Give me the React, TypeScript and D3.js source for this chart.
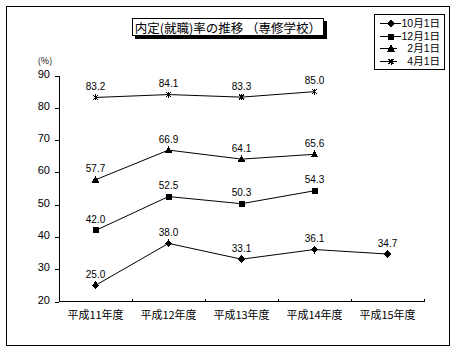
import React from "react";
import * as d3 from "d3";

const years = ["平成11年度", "平成12年度", "平成13年度", "平成14年度", "平成15年度"];
const seriesNames = ["10月1日", "12月1日", "2月1日", "4月1日"];
const oct1 = [25.0, 38.0, 33.1, 36.1, 34.7];
const dec1 = [42.0, 52.5, 50.3, 54.3, null];
const feb1 = [57.7, 66.9, 64.1, 65.6, null];
const apr1 = [83.2, 84.1, 83.3, 85.0, null];
const yTicks = [20, 30, 40, 50, 60, 70, 80, 90];
const titleText = "内定(就職)率の推移 （専修学校）";

const seriesValues = [oct1, dec1, feb1, apr1];
const markerKinds = ["diamond", "square", "triangle", "star"];

const jp = "'Noto Sans CJK JP', sans-serif";
const num = "'Liberation Sans', Arial, sans-serif";
const legendFont = "'Liberation Sans', 'Noto Sans CJK JP', sans-serif";

function Marker({ kind, x, y }: { kind: string; x: number; y: number }) {
  if (kind === "diamond") {
    return <path d={`M${x},${y - 4}L${x + 3.5},${y}L${x},${y + 4}L${x - 3.5},${y}Z`} fill="#000" />;
  }
  if (kind === "square") {
    return <rect x={x - 3} y={y - 3} width={6} height={6} fill="#000" />;
  }
  if (kind === "triangle") {
    return <path d={`M${x},${y - 4}L${x + 4},${y + 3}L${x - 4},${y + 3}Z`} fill="#000" />;
  }
  return (
    <path
      d={`M${x - 2.5},${y - 2.5}L${x + 2.5},${y + 2.5}M${x - 2.5},${y + 2.5}L${x + 2.5},${y - 2.5}M${x},${y - 3}L${x},${y + 3}`}
      stroke="#000"
      strokeWidth={1}
      fill="none"
    />
  );
}

export default function App() {
  const W = 458, H = 352;
  const x0 = 59, x1 = 424;
  const yb = 301.5, yt = 75.5;
  const x = d3.scaleBand<string>().domain(years).range([x0, x1]);
  const y = d3.scaleLinear().domain([20, 90]).range([yb, yt]);
  const cx = (c: string) => (x(c) as number) + x.bandwidth() / 2;

  const line = d3
    .line<number | null>()
    .defined((d) => d !== null)
    .x((_, i) => cx(years[i]))
    .y((d) => y(d as number));

  return (
    <svg width={W} height={H} style={{ position: "absolute", left: 0, top: 0, background: "#fff" }} shapeRendering="crispEdges">
      <rect x={0} y={0} width={W} height={H} fill="#fff" />
      <rect x={6.5} y={6.5} width={443} height={339} fill="none" stroke="#000" strokeWidth={1} />

      {/* title */}
      <rect x={135} y={21} width={192} height={18} fill="#000" />
      <rect x={132.5} y={18.5} width={191} height={17} fill="#fff" stroke="#000" />
      <text x={228} y={27.5} textAnchor="middle" dominantBaseline="central" fontFamily={jp} fontSize={12.5}>
        {titleText}
      </text>

      {/* legend */}
      <rect x={374.5} y={14.5} width={70} height={55} fill="#fff" stroke="#000" />
      {seriesNames.map((n, i) => {
        const ly = 23 + i * 12.5;
        return (
          <g key={n}>
            <line x1={380} x2={i < 2 ? 401 : 397} y1={Math.round(ly) + 0.5} y2={Math.round(ly) + 0.5} stroke="#000" />
            <Marker kind={markerKinds[i]} x={391} y={Math.round(ly) + 0.5} />
            <text x={440} y={ly} textAnchor="end" dominantBaseline="central" fontFamily={legendFont} fontSize={10.5}>
              {n}
            </text>
          </g>
        );
      })}

      {/* y axis */}
      <line x1={x0 + 0.5} x2={x0 + 0.5} y1={yt} y2={yb} stroke="#000" />
      {yTicks.map((t) => (
        <g key={t}>
          <line x1={x0 - 4} x2={x0} y1={Math.round(y(t)) + 0.5} y2={Math.round(y(t)) + 0.5} stroke="#000" />
          <text x={50} y={y(t) - 2} textAnchor="end" dominantBaseline="central" fontFamily={num} fontSize={11}>
            {t}
          </text>
        </g>
      ))}
      <text x={45} y={60} textAnchor="middle" dominantBaseline="central" fontFamily={jp} fontSize={9}>
        (%)
      </text>

      {/* x axis */}
      <line x1={x0} x2={x1} y1={yb} y2={yb} stroke="#000" />
      {years.map((c, i) => (
        <g key={c}>
          <line x1={Math.round((x(c) as number) + x.bandwidth()) + 0.5} x2={Math.round((x(c) as number) + x.bandwidth()) + 0.5} y1={yb - 3} y2={yb} stroke="#000" />
          <text x={cx(c)} y={314} textAnchor="middle" dominantBaseline="central" fontFamily={jp} fontSize={11}>
            {c}
          </text>
        </g>
      ))}

      {/* series */}
      {seriesValues.map((vals, si) => (
        <g key={si}>
          <path d={line(vals) || ""} fill="none" stroke="#000" strokeWidth={1} shapeRendering="auto" />
          {vals.map((v, i) =>
            v === null ? null : (
              <g key={i}>
                <Marker kind={markerKinds[si]} x={cx(years[i])} y={y(v)} />
                <text x={cx(years[i])} y={y(v) - 11} textAnchor="middle" dominantBaseline="central" fontFamily={num} fontSize={10}>
                  {v.toFixed(1)}
                </text>
              </g>
            )
          )}
        </g>
      ))}
    </svg>
  );
}
